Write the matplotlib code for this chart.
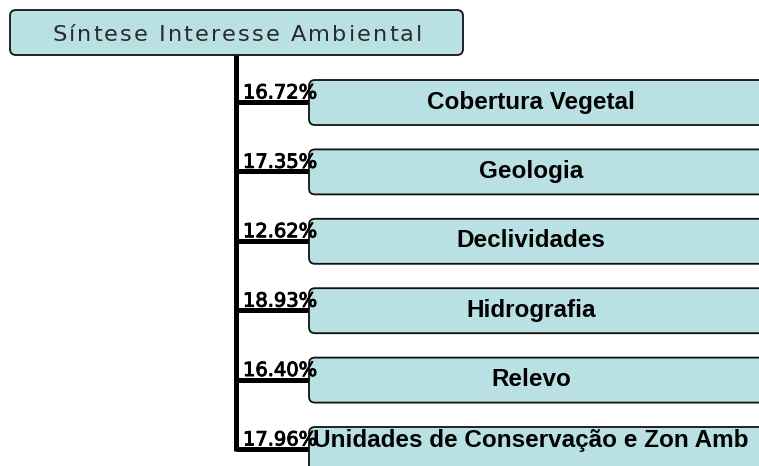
import matplotlib
matplotlib.use("Agg")
import matplotlib.pyplot as plt
import matplotlib.patheffects as pe
from matplotlib.patches import FancyBboxPatch

root_label = "Síntese Interesse Ambiental"
categories = ["Cobertura Vegetal", "Geologia", "Declividades", "Hidrografia",
              "Relevo", "Unidades de Conservação e Zon Amb"]
weights = [16.72, 17.35, 12.62, 18.93, 16.40, 17.96]

W, H = 759, 466
fig = plt.figure(figsize=(W / 100, H / 100), dpi=100)
ax = fig.add_axes([0, 0, 1, 1])
ax.set_xlim(0, W)
ax.set_ylim(H, 0)
ax.axis("off")

fill = "#b9e0e3"
lw_line = 3.6

# root box
ax.add_patch(FancyBboxPatch((10, 10), 453, 45, boxstyle="round,pad=0,rounding_size=6",
                            fc=fill, ec="#111111", lw=1.3, zorder=3))

# root title drawn with letter spacing (tracking), fitted to a target width
renderer = fig.canvas.get_renderer()
title_size = 16.2
target_w = 370
title_kw = dict(fontsize=title_size, family="DejaVu Sans", color="#2a2a2a", zorder=4,
                va="baseline", ha="left")
widths = []
for ch in root_label:
    if ch == " ":
        widths.append(0.318 * title_size * 100 / 72)
        continue
    t = ax.text(0, 0, ch, **title_kw)
    widths.append(t.get_window_extent(renderer).width)
    t.remove()
tracking = max(0.0, (target_w - sum(widths)) / (len(root_label) - 1))
x = 237 - target_w / 2
for ch, w in zip(root_label, widths):
    if ch != " ":
        ax.text(x, 40.8, ch, **title_kw)
    x += w + tracking

trunk_x = 235.5
box_left = 309
top0 = 80
step = 69.4
box_h = 45
stroke = [pe.withStroke(linewidth=0.7, foreground="black")]

conn_ys = []
for i, (cat, w) in enumerate(zip(categories, weights)):
    top = top0 + i * step
    cy = top + 22
    conn_ys.append(cy)
    ax.add_patch(FancyBboxPatch((box_left, top), 480, box_h,
                                boxstyle="round,pad=0,rounding_size=6",
                                fc=fill, ec="#111111", lw=1.3, zorder=3, clip_on=True))
    ax.plot([trunk_x, box_left], [cy, cy], color="black", lw=lw_line,
            solid_capstyle="butt", zorder=2)
    ax.text(243, cy - 3.6, f"{w:.2f}%", ha="left", va="baseline", fontsize=14.0,
            family="DejaVu Sans", color="black", zorder=5, path_effects=stroke)
    if i < len(categories) - 1:
        ax.text(531, top + 28.6, cat, ha="center", va="baseline", fontsize=17.5,
                family="Liberation Sans", fontweight="bold", color="black", zorder=4)
    else:
        ax.text(313, top + 19.5, cat, ha="left", va="baseline", fontsize=17.5,
                family="Liberation Sans", fontweight="bold", color="black", zorder=4)

ax.plot([trunk_x, trunk_x], [55, conn_ys[-1] + 1.8], color="black", lw=lw_line,
        solid_capstyle="butt", zorder=2)

fig.savefig("out.png", dpi=100)
